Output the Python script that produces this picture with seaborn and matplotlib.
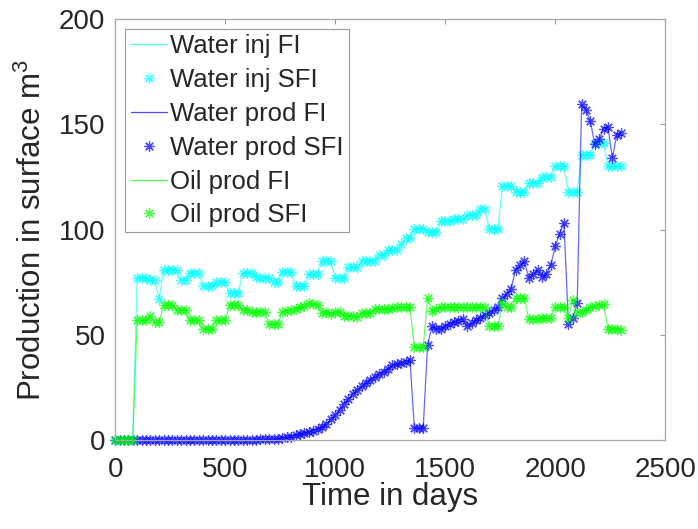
import matplotlib
matplotlib.use("Agg")
import matplotlib.pyplot as plt
import seaborn as sns
import pandas as pd

# ---- data ----
days = [0, 20, 40, 60, 80, 100, 120, 140, 160, 180,
        200, 220, 240, 260, 280, 300, 320, 340, 360, 380,
        400, 420, 440, 460, 480, 500, 520, 540, 560, 580,
        600, 620, 640, 660, 680, 700, 720, 740, 760, 780,
        800, 820, 840, 860, 880, 900, 920, 940, 960, 980,
        1000, 1020, 1040, 1060, 1080, 1100, 1120, 1140, 1160, 1180,
        1200, 1220, 1240, 1260, 1280, 1300, 1320, 1340, 1360, 1380,
        1400, 1420, 1440, 1460, 1480, 1500, 1520, 1540, 1560, 1580,
        1600, 1620, 1640, 1660, 1680, 1700, 1720, 1740, 1760, 1780,
        1800, 1820, 1840, 1860, 1880, 1900, 1920, 1940, 1960, 1980,
        2000, 2020, 2040, 2060, 2080, 2100, 2120, 2140, 2160, 2180,
        2200, 2220, 2240, 2260, 2280, 2300]

water_inj = [0, 0, 0, 0, 0, 77, 77, 77, 76, 76,
             67, 81, 81, 81, 81, 76, 76, 79.5, 79.5, 79.5,
             73, 73, 73, 75, 75, 75, 70, 70, 70, 79.5,
             79.5, 79.5, 77.6, 77, 77, 77, 75, 75, 80, 80,
             80, 73, 73, 73, 79, 79, 79, 85, 85, 85,
             77, 77, 77, 82, 82, 82, 85, 85, 85, 85,
             88, 88, 90.5, 90.5, 90.5, 93, 96, 96, 100.5, 100.5,
             100.5, 99, 99, 99, 104, 104, 104, 105, 105, 105,
             107, 107, 107, 110, 110, 100.5, 100.5, 100.5, 120.5, 120.5,
             120.5, 118, 118, 118, 122, 122, 122, 125, 125, 125,
             130, 130, 130, 118, 118, 118, 135.5, 135.5, 135.5, 141,
             141, 141, 130, 130, 130, 130]

water_prod = [0, 0, 0, 0, 0, 0, 0, 0, 0, 0,
              0, 0, 0, 0, 0, 0, 0, 0, 0, 0,
              0, 0, 0, 0, 0, 0, 0, 0, 0.1, 0.1,
              0.1, 0.2, 0.2, 0.3, 0.3, 0.4, 0.5, 0.7, 1, 1.3,
              1.7, 2.2, 2.7, 3.2, 3.8, 4.5, 5.2, 6, 7.5, 10,
              12, 14.5, 17.3, 19.5, 22, 24, 25.5, 27.3, 28.6, 30,
              31.3, 32.4, 34, 35.5, 36, 36.7, 37.2, 38, 5.7, 5.7,
              5.7, 45, 54, 53, 53, 54, 55, 56, 56.8, 57.6,
              54, 55.5, 57, 58.2, 59.5, 60.5, 62, 63, 67.5, 69.5,
              72, 81, 83, 85, 77, 79, 81, 77.6, 79, 83,
              92, 98, 103, 55, 58, 65, 159.5, 157, 151.4, 140.5,
              143, 148, 148.5, 134, 145, 146]

oil_prod = [0, 0, 0, 0, 0, 57, 57, 57, 59, 56,
            56, 64, 64, 64, 62, 62, 62, 57, 57, 57,
            53, 53, 53, 57, 57, 57, 64, 64, 64, 62,
            62, 61, 61, 61, 61, 55, 55, 55, 61, 61.5,
            62, 62.5, 63, 63.5, 65, 64.5, 64, 60.5, 61, 60,
            61, 61, 59, 59, 59, 58.6, 60.5, 60.5, 60.5, 62.3,
            62.3, 62.5, 62.5, 62.8, 63, 63, 63, 63, 44, 44,
            44, 67.6, 61.5, 62.5, 63, 63, 63, 63, 63, 63,
            63, 63, 63, 63, 63, 54, 54, 54, 65, 63,
            63, 67.5, 67.5, 67.5, 57.6, 57.6, 57.6, 58, 58, 58,
            63, 63, 63, 58, 66.7, 60.5, 61, 62, 63, 63.5,
            64.3, 64.5, 53, 53, 53, 52.5]

x_ticks = [0, 500, 1000, 1500, 2000, 2500]
y_ticks = [0, 50, 100, 150, 200]

series = [("Water inj", water_inj, "#00ffff"),
          ("Water prod", water_prod, "#0000ff"),
          ("Oil prod", oil_prod, "#00ff00")]

# ---- style ----
sns.set_style("white")
plt.rcParams["font.family"] = ["Liberation Sans", "DejaVu Sans"]
plt.rcParams["mathtext.fontset"] = "custom"
plt.rcParams["mathtext.rm"] = "Liberation Sans"
plt.rcParams["legend.numpoints"] = 1

fig = plt.figure(figsize=(6.98, 5.29), dpi=100)
ax = fig.add_axes([0.165, 0.168, 0.788, 0.796])

asterisk = (8, 2, 0)
for name, vals, col in series:
    df = pd.DataFrame({"t": days, "v": vals})
    sns.lineplot(data=df, x="t", y="v", ax=ax, color=col, linewidth=0.9,
                 alpha=0.6, label=f"{name} FI", estimator=None, sort=False)
    sns.lineplot(data=df, x="t", y="v", ax=ax, color=col, linestyle="none",
                 marker=asterisk, markersize=7.5, markeredgewidth=0.9,
                 markeredgecolor=col, markerfacecolor=col,
                 alpha=0.7, label=f"{name} SFI", estimator=None,
                 sort=False, clip_on=False)

ax.set_xlim(0, 2500)
ax.set_ylim(0, 200)
ax.set_xticks(x_ticks)
ax.set_yticks(y_ticks)
ax.tick_params(direction="in", length=3.6, width=0.8, color="#9a9a9a",
               labelsize=20, labelcolor="#262626", top=True, right=True,
               pad=7)
ax.tick_params(axis="x", pad=12.5)
for s in ax.spines.values():
    s.set_visible(True)
    s.set_color("#a8a8a8")
    s.set_linewidth(0.9)

ax.set_xlabel("Time in days", fontsize=22.5, color="#262626", labelpad=-1)
ax.set_ylabel("Production in surface m$^3$", fontsize=22.5, color="#262626",
              labelpad=8)

leg = ax.legend(loc="upper left", fontsize=18.5, frameon=True,
                fancybox=False, edgecolor="#808080", handlelength=1.4,
                handletextpad=0.15, borderpad=0.2, labelspacing=0.38,
                borderaxespad=0.4)
leg.get_frame().set_linewidth(0.8)
for h in leg.legend_handles:
    h.set_alpha(0.7)

fig.savefig("out.png", dpi=100)
